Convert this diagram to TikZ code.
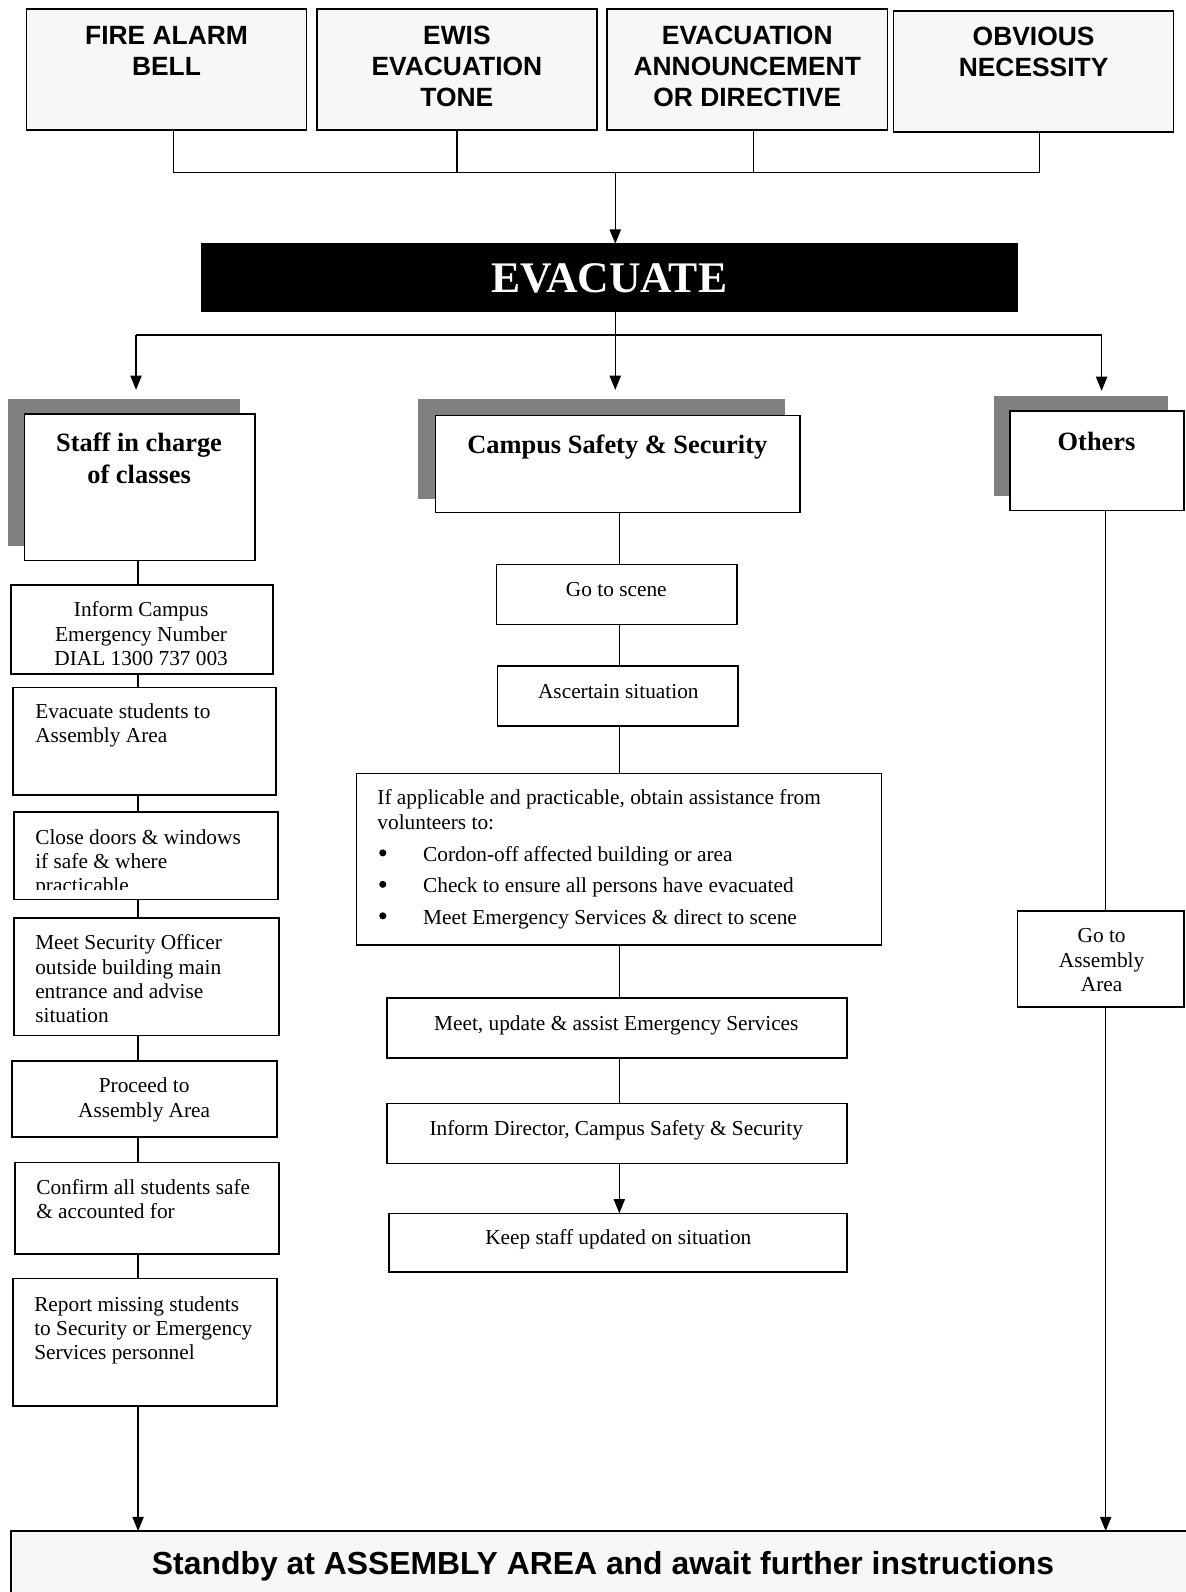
\documentclass[tikz,border=0pt]{standalone}
\usepackage{fontspec}
\setmainfont{Liberation Serif}
\newfontfamily\arialfont{Liberation Sans}
\usetikzlibrary{arrows.meta}
\definecolor{lightbox}{RGB}{247,247,247}
\definecolor{shadowgray}{RGB}{128,128,128}
\newcommand\mkbox[6][]{\node[box,#1,minimum width={(#5-#3)*0.5pt},minimum height={(#6-#4)*0.5pt}] (#2) at (#3,#4) {};}
\newcommand\bul{\hspace*{22.5pt}}
\begin{document}
\begin{tikzpicture}[x=0.5pt,y=-0.5pt,line width=0.75pt,
  box/.style={draw,rectangle,anchor=north west,inner sep=0pt,outer sep=0pt},
  topbox/.style={box,fill=lightbox},
  shadowbox/.style={box,draw=none,fill=shadowgray},
  evacbox/.style={box,fill=black},
  whitebox/.style={box,fill=white},
  arr/.style={-{Triangle[length=7pt,width=5.5pt]}},
  bulletdot/.style={fill=black},
  tA/.style={inner sep=0pt,anchor=north,align=center,font=\arialfont\bfseries\fontsize{13}{15.2}\selectfont},
  tB/.style={inner sep=0pt,anchor=north,align=center,font=\bfseries\fontsize{13}{15.5}\selectfont},
  tE/.style={inner sep=0pt,anchor=north,text=white,font=\bfseries\fontsize{21.5}{24}\selectfont},
  tS/.style={inner sep=0pt,anchor=north,font=\arialfont\bfseries\fontsize{15.7}{18}\selectfont},
  txt/.style={inner sep=0pt,anchor=north,align=center,font=\fontsize{10.5}{12}\selectfont},
  txl/.style={inner sep=0pt,anchor=north west,align=left,font=\fontsize{10.5}{12}\selectfont},
]
\useasboundingbox (0,0) rectangle (1168,1568);
\clip (0,0) rectangle (1168,1568);

% ---------- top triggers ----------
\mkbox[topbox]{fire}{26}{9}{302}{128}
\mkbox[topbox]{ewis}{312}{9}{588}{128}
\mkbox[topbox]{annc}{598}{9}{874}{128}
\mkbox[topbox]{obv}{880}{11}{1156}{130}
\node[tA] (tfire) at (164,25) {FIRE ALARM\\BELL};
\node[tA] (tewis) at (450,25) {EWIS\\EVACUATION\\TONE};
\node[tA] (tannc) at (736,25) {EVACUATION\\ANNOUNCEMENT\\OR DIRECTIVE};
\node[tA] (tobv) at (1018,26) {OBVIOUS\\NECESSITY};

\coordinate (d1) at (171,170);
\coordinate (d2) at (450,170);
\coordinate (d3) at (742,170);
\coordinate (d4) at (1024,170);
\coordinate (ja) at (606,170);

% ---------- evacuate ----------
\mkbox[evacbox]{evac}{199}{240}{1002}{307}
\node[tE] (tevac) at (600,259) {EVACUATE};

\draw (fire.south -| d1) -- (d1) -- (d4) -- (obv.south -| d4);
\draw (ewis.south -| d2) -- (d2);
\draw (annc.south -| d3) -- (d3);
\draw[arr] (ja) -- (ja |- evac.north);

% ---------- group headers ----------
\mkbox[shadowbox]{staffsh}{8}{393}{236}{538}
\mkbox[whitebox]{staff}{24}{408}{251}{552}
\mkbox[shadowbox]{campsh}{412}{393}{773}{491}
\mkbox[whitebox]{campus}{429}{409}{788}{505}
\mkbox[shadowbox]{othsh}{979}{390}{1150}{489}
\mkbox[whitebox]{others}{995}{405}{1166}{503}
\node[tB] (tstaff) at (137,426) {Staff in charge\\of classes};
\node[tB] (tcampus) at (608,428) {Campus Safety \& Security};
\node[tB] (tothers) at (1080,425) {Others};

\coordinate (jb) at (606,330);
\coordinate (hl) at (134,330);
\coordinate (hr) at (1085,330);
\draw (jb |- evac.south) -- (jb);
\draw (hl) -- (hr);
\draw[arr,shorten >=4.5pt] (hl) -- (hl |- staffsh.north);
\draw[arr,shorten >=4.5pt] (jb) -- (jb |- campsh.north);
\draw[arr,shorten >=2.5pt] (hr) -- (hr |- othsh.north);

% ---------- left column ----------
\coordinate (cL) at (136,0);
\mkbox{inform}{11}{576}{269}{664}
\mkbox{evst}{13}{677}{272}{783}
\mkbox{close}{14}{800}{274}{886}
\mkbox{meetsec}{14}{904}{275}{1020}
\mkbox{proceed}{12}{1045}{273}{1120}
\mkbox{confirm}{15}{1145}{275}{1235}
\mkbox{report}{13}{1259}{273}{1385}
\node[txt] (tinform) at (139,592) {Inform Campus\\Emergency Number\\DIAL 1300 737 003};
\node[txl] (tevst) at (34,692) {Evacuate students to\\Assembly Area};
\begin{scope}
\clip (14,800) rectangle (274,876);
\node[txl] (tclose) at (34,816) {Close doors \& windows\\if safe \& where\\practicable};
\end{scope}
\node[txl] (tmeetsec) at (34,920) {Meet Security Officer\\outside building main\\entrance and advise\\situation};
\node[txt] (tproceed) at (142,1061) {Proceed to\\Assembly Area};
\node[txl] (tconfirm) at (35,1161) {Confirm all students safe\\\& accounted for};
\node[txl] (treport) at (33,1276) {Report missing students\\to Security or Emergency\\Services personnel};

\draw (staff.south -| cL) -- (inform.north -| cL);
\draw (inform.south -| cL) -- (evst.north -| cL);
\draw (evst.south -| cL) -- (close.north -| cL);
\draw (close.south -| cL) -- (meetsec.north -| cL);
\draw (meetsec.south -| cL) -- (proceed.north -| cL);
\draw (proceed.south -| cL) -- (confirm.north -| cL);
\draw (confirm.south -| cL) -- (report.north -| cL);

% ---------- middle column ----------
\coordinate (cM) at (610,0);
\mkbox{scene}{489}{556}{726}{615}
\mkbox{ascert}{490}{656}{727}{715}
\mkbox{vol}{351}{762}{868}{931}
\mkbox{meetup}{381}{983}{834}{1042}
\mkbox{director}{381}{1087}{834}{1146}
\mkbox{keep}{383}{1195}{834}{1253}
\node[txt] (tscene) at (607,573) {Go to scene};
\node[txt] (tascert) at (609,673) {Ascertain situation};
\node[txl,font=\fontsize{10.5}{12.4}\selectfont] (tvol) at (371,777) {If applicable and practicable, obtain assistance from\\volunteers to:\\[3.1pt]\bul Cordon-off affected building or area\\[3.1pt]\bul Check to ensure all persons have evacuated\\[3.1pt]\bul Meet Emergency Services \& direct to scene};
\fill[bulletdot] (377,840) circle (1.75pt);
\fill[bulletdot] (377,871) circle (1.75pt);
\fill[bulletdot] (377,902) circle (1.75pt);
\node[txt] (tmeetup) at (607,1000) {Meet, update \& assist Emergency Services};
\node[txt] (tdirector) at (607,1103) {Inform Director, Campus Safety \& Security};
\node[txt] (tkeep) at (609,1210) {Keep staff updated on situation};

\draw (campus.south -| cM) -- (scene.north -| cM);
\draw (scene.south -| cM) -- (ascert.north -| cM);
\draw (ascert.south -| cM) -- (vol.north -| cM);
\draw (vol.south -| cM) -- (meetup.north -| cM);
\draw (meetup.south -| cM) -- (director.north -| cM);
\draw[arr] (director.south -| cM) -- (keep.north -| cM);

% ---------- right column ----------
\coordinate (cR) at (1089,0);
\mkbox{goasm}{1002}{897}{1166}{992}
\node[txt] (tgoasm) at (1085,914) {Go to\\Assembly\\Area};
\draw (others.south -| cR) -- (goasm.north -| cR);

% ---------- bottom ----------
\mkbox[topbox]{standby}{11}{1508}{1200}{1600}
\node[tS] (tstandby) at (594,1527) {Standby at ASSEMBLY AREA and await further instructions};
\draw[arr] (report.south -| cL) -- (standby.north -| cL);
\draw[arr] (goasm.south -| cR) -- (standby.north -| cR);
\end{tikzpicture}
\end{document}
